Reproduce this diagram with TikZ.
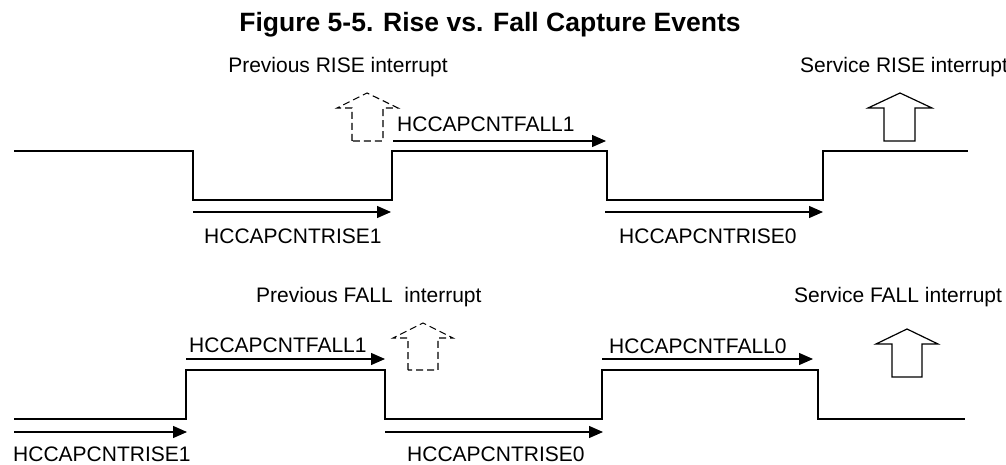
\documentclass[tikz,border=0pt]{standalone}
\usepackage{fontspec}
\setmainfont{Liberation Sans}
\usepackage{tikz}
\usetikzlibrary{arrows.meta}

\begin{document}
\begin{tikzpicture}[x=1pt, y=-1pt,
    signal/.style={line width=2.6pt, line join=miter},
    count/.style={line width=1.3pt, -{Triangle[length=14pt, width=12pt]}},
    lbl/.style={anchor=base west, inner sep=0pt, font=\fontsize{21}{24}\selectfont},
    irq/.style={line width=1.2pt},
    previrq/.style={line width=1.1pt, dash pattern=on 7pt off 4pt}]

\useasboundingbox (0,0) rectangle (1006,465);

% Title
\node[anchor=base, inner sep=0pt, font=\fontsize{26.5}{30}\selectfont\bfseries]
    (title) at (490,32) {Figure 5-5. Rise vs. Fall Capture Events};

% ---------------- RISE capture ----------------
\node[lbl, anchor=base] (prevrise) at (338,73) {Previous RISE interrupt};
\node[lbl] (servrise) at (800,73) {Service RISE interrupt};

% Signal
\draw[signal] (14,151) -- (193,151) -- (193,200) -- (392,200) -- (392,151)
    -- (607,151) -- (607,200) -- (823,200) -- (823,151) -- (968,151);

% Interrupt arrows
\draw[previrq] (352,141) -- (352,108) -- (337,108) -- (367,93) -- (398,108)
    -- (383,108) -- (383,141) -- cycle;
\draw[irq] (884,141) -- (884,108) -- (868,108) -- (900,93) -- (932,108)
    -- (915,108) -- (915,141) -- cycle;

% Counters
\coordinate (r1a) at (193,212);
\coordinate (r1b) at (391,212);
\coordinate (f1a) at (393,141);
\coordinate (f1b) at (606,141);
\coordinate (r0a) at (605,212);
\coordinate (r0b) at (823,212);
\draw[count] (r1a) -- (r1b);
\draw[count] (f1a) -- (f1b);
\draw[count] (r0a) -- (r0b);

\node[lbl] (fall1top) at (397,132) {HCCAPCNTFALL1};
\node[lbl] (rise1top) at (204,243) {HCCAPCNTRISE1};
\node[lbl] (rise0top) at (619,243) {HCCAPCNTRISE0};

% ---------------- FALL capture ----------------
\node[lbl] (prevfall) at (256,302) {Previous FALL\ \ interrupt};
\node[lbl] (servfall) at (794,302) {Service FALL interrupt};

% Signal
\draw[signal] (14,419) -- (186,419) -- (186,370) -- (385,370) -- (385,419)
    -- (602,419) -- (602,370) -- (818,370) -- (818,419) -- (965,419);

% Interrupt arrows
\draw[previrq] (408,370) -- (408,338) -- (393,338) -- (423,323) -- (453,338)
    -- (438,338) -- (438,370) -- cycle;
\draw[irq] (892,377) -- (892,344) -- (876,344) -- (907,329) -- (938,344)
    -- (922,344) -- (922,377) -- cycle;

% Counters
\coordinate (f1c) at (186,359);
\coordinate (f1d) at (385,359);
\coordinate (f0a) at (602,359);
\coordinate (f0b) at (813,359);
\coordinate (r1c) at (14,432);
\coordinate (r1d) at (187,432);
\coordinate (r0c) at (385,432);
\coordinate (r0d) at (603,432);
\draw[count] (f1c) -- (f1d);
\draw[count] (f0a) -- (f0b);
\draw[count] (r1c) -- (r1d);
\draw[count] (r0c) -- (r0d);

\node[lbl] (fall1bot) at (189,352) {HCCAPCNTFALL1};
\node[lbl] (fall0bot) at (609,353) {HCCAPCNTFALL0};
\node[lbl] (rise1bot) at (13,461) {HCCAPCNTRISE1};
\node[lbl] (rise0bot) at (407,461) {HCCAPCNTRISE0};

\end{tikzpicture}
\end{document}
